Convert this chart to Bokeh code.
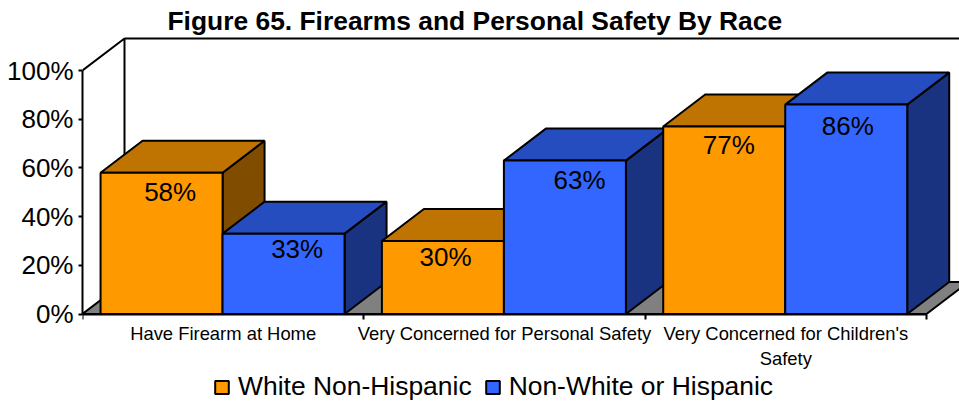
from bokeh.embed import file_html
from bokeh.resources import INLINE
from bokeh.plotting import figure
from bokeh.models import (Range1d, LinearAxis, FixedTicker, Legend, LegendItem,
                          ColumnDataSource, PrintfTickFormatter)
from bokeh.core.properties import value

categories = ["Have Firearm at Home", "Very Concerned for Personal Safety",
              "Very Concerned for Children's\nSafety"]
white_non_hispanic = [58, 30, 77]
non_white_or_hispanic = [33, 63, 86]
y_ticks = [0, 20, 40, 60, 80, 100]
series_names = ["White Non-Hispanic", "Non-White or Hispanic"]

# layout (px)
PLOT_W, PLOT_H = 959, 404
L, R = 82, 0            # frame left / right border
TOP = 36
BASE = 90.5             # distance of the 0% line above the page bottom
CAT_PX = 281.33
PCT_PX = 2.435
DEPTH_X = 42 / CAT_PX   # 3-D depth in category units
DEPTH_Y = 32 / PCT_PX   # 3-D depth in percent units
BAR_W = 122 / CAT_PX
BAR_SHIFT = -0.6 / CAT_PX

FONT = "Liberation Sans"
LW = 2
COL = [dict(front="#FF9900", top="#BF7300", side="#804D00"),
       dict(front="#3366FF", top="#264DBF", side="#1A3380")]

frame_w = PLOT_W - L - R
frame_h = PLOT_H - TOP
p = figure(width=PLOT_W, height=PLOT_H, output_backend="svg", toolbar_location=None,
           x_range=Range1d(0, frame_w / CAT_PX),
           y_range=Range1d(-BASE / PCT_PX, (frame_h - BASE) / PCT_PX),
           x_axis_type=None, y_axis_type=None,
           min_border_left=L, min_border_right=R, min_border_top=TOP, min_border_bottom=0)
p.outline_line_color = None
p.grid.visible = False
p.background_fill_color = "white"
p.border_fill_color = "white"

# title
p.title.text = "Figure 65. Firearms and Personal Safety By Race"
p.title.text_font = FONT
p.title.text_font_size = "26.4px"
p.title.text_font_style = "bold"
p.title.text_color = "black"
p.title.align = "left"
p.title.offset = 85
p.title.standoff = 2

# axes
yax = LinearAxis(ticker=FixedTicker(ticks=y_ticks), bounds=(0, 100),
                 formatter=PrintfTickFormatter(format="%d%%"))
yax.major_label_text_font = FONT
yax.major_label_text_font_size = "26px"
yax.major_label_text_color = "black"
yax.major_tick_out = 4
yax.major_tick_in = 0
yax.major_tick_line_width = LW
yax.axis_line_width = LW
yax.major_label_standoff = 5
yax.minor_tick_line_color = None
p.add_layout(yax, "left")

n = len(categories)
centers = [i + 0.5 for i in range(n)]
xax = LinearAxis(ticker=FixedTicker(ticks=centers, minor_ticks=list(range(n + 1))),
                 bounds=(0, n), fixed_location=0,
                 major_label_overrides=dict(zip(centers, categories)))
xax.major_label_text_font = FONT
xax.major_label_text_font_size = "18.4px"
xax.major_label_text_color = "black"
xax.major_tick_line_color = None
xax.major_tick_out = 0
xax.major_tick_in = 0
xax.minor_tick_out = 5
xax.minor_tick_in = 0
xax.minor_tick_line_width = LW
xax.axis_line_width = LW
xax.major_label_standoff = 4
p.add_layout(xax, "below")

# back wall and floor
depth_top = 100
p.line([0, DEPTH_X, DEPTH_X], [depth_top, depth_top + DEPTH_Y, DEPTH_Y], color="black", line_width=LW)
p.line([DEPTH_X, n + DEPTH_X], [depth_top + DEPTH_Y] * 2, color="black", line_width=LW)
p.patch([0, DEPTH_X, n + DEPTH_X, n], [0, DEPTH_Y, DEPTH_Y, 0], fill_color="#808080",
        line_color="black", line_width=LW)

# bars, front to back, left to right
legend_rs = [None, None]
series = [white_non_hispanic, non_white_or_hispanic]
for c in range(n):
    for s, vals in enumerate(series):
        v = vals[c]
        x0 = centers[c] + BAR_SHIFT + (s - 1) * BAR_W
        x1 = x0 + BAR_W
        p.patch([x1, x1 + DEPTH_X, x1 + DEPTH_X, x1], [0, DEPTH_Y, v + DEPTH_Y, v],
                fill_color=COL[s]["side"], line_color="black", line_width=LW)
        p.patch([x0, x0 + DEPTH_X, x1 + DEPTH_X, x1], [v, v + DEPTH_Y, v + DEPTH_Y, v],
                fill_color=COL[s]["top"], line_color="black", line_width=LW)
        r = p.vbar(x=[(x0 + x1) / 2], width=BAR_W, top=[v], bottom=[0],
                   fill_color=COL[s]["front"], line_color="black", line_width=LW)
        if legend_rs[s] is None:
            legend_rs[s] = r

# data labels
lx, ly, lt, dx, dy = [], [], [], [], []
nudge_x = [[8, 2, 4], [13, 14, 1]]
nudge_y = [[19, 16, 18], [15, 19, 21]]
for s, vals in enumerate(series):
    for c, v in enumerate(vals):
        lx.append(centers[c] + (s - 1) * BAR_W + BAR_W / 2)
        ly.append(v)
        lt.append(f"{v}%")
        dx.append(nudge_x[s][c])
        dy.append(nudge_y[s][c])
p.text(x="x", y="y", text="t", x_offset="dx", y_offset="dy",
       source=ColumnDataSource(dict(x=lx, y=ly, t=lt, dx=dx, dy=dy)),
       text_font=value(FONT), text_font_size=value("26px"), text_color="black",
       text_align="center", text_baseline="middle")

# legend
legend = Legend(items=[LegendItem(label=series_names[i], renderers=[legend_rs[i]]) for i in range(2)],
                orientation="horizontal", location=(131, 2), background_fill_alpha=0,
                border_line_alpha=0, glyph_width=17, glyph_height=16, padding=0, margin=0,
                spacing=12, label_standoff=8, label_text_font=FONT,
                label_text_font_size="26.45px", label_text_color="black")
p.add_layout(legend, "center")

open("out.html", "w").write(file_html(p, INLINE))
